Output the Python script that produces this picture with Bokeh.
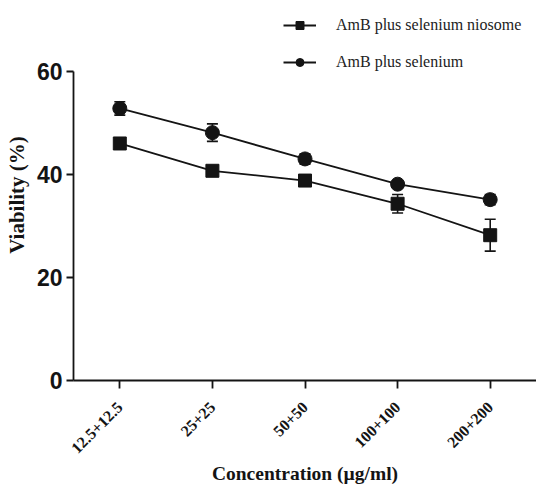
import math
from bokeh.plotting import figure
from bokeh.models import ColumnDataSource, Whisker, Legend, LegendItem, Range1d, FactorRange, FixedTicker
from bokeh.embed import file_html
from bokeh.resources import INLINE

categories = ["12.5+12.5", "25+25", "50+50", "100+100", "200+200"]
niosome_mean = [46.0, 40.7, 38.8, 34.3, 28.2]
niosome_err = [0.6, 0.6, 0.6, 1.8, 3.1]
selenium_mean = [52.8, 48.1, 43.0, 38.1, 35.1]
selenium_err = [1.3, 1.7, 1.0, 0.5, 1.0]
y_ticks = [0, 20, 40, 60]

INK = "#141414"
SERIF = "'Liberation Serif'"
SANS = "'Liberation Sans'"

p = figure(frame_width=463, frame_height=371, output_backend="svg", toolbar_location=None,
           x_range=FactorRange(factors=categories, range_padding=0),
           y_range=Range1d(0, 72),
           min_border_left=73, min_border_right=0, min_border_top=9, min_border_bottom=100)
p.outline_line_color = None
p.xgrid.visible = False
p.ygrid.visible = False
p.background_fill_color = "white"

src_n = ColumnDataSource(dict(x=categories, y=niosome_mean,
                              lo=[m - e for m, e in zip(niosome_mean, niosome_err)],
                              hi=[m + e for m, e in zip(niosome_mean, niosome_err)]))
src_s = ColumnDataSource(dict(x=categories, y=selenium_mean,
                              lo=[m - e for m, e in zip(selenium_mean, selenium_err)],
                              hi=[m + e for m, e in zip(selenium_mean, selenium_err)]))

for src in (src_n, src_s):
    w = Whisker(base="x", lower="lo", upper="hi", source=src, dimension="height",
                line_color=INK, line_width=1.6)
    w.upper_head.size = 11
    w.lower_head.size = 11
    w.upper_head.line_color = INK
    w.lower_head.line_color = INK
    w.upper_head.line_width = 1.6
    w.lower_head.line_width = 1.6
    p.add_layout(w)

ln_n = p.line("x", "y", source=src_n, line_color=INK, line_width=1.8)
mk_n = p.scatter("x", "y", source=src_n, marker="square", size=13, fill_color=INK, line_color=INK)
ln_s = p.line("x", "y", source=src_s, line_color=INK, line_width=1.8)
mk_s = p.scatter("x", "y", source=src_s, marker="circle", size=14, fill_color=INK, line_color=INK)

legend = Legend(items=[LegendItem(label="AmB plus selenium niosome", renderers=[ln_n, mk_n]),
                       LegendItem(label="AmB plus selenium", renderers=[ln_s, mk_s])],
                location=(210, 308), orientation="vertical",
                glyph_width=33, glyph_height=20, spacing=17, padding=5, margin=0,
                label_standoff=20, label_text_font=SERIF, label_text_font_size="16px",
                label_text_color="#222222", border_line_color=None, background_fill_alpha=0)
p.add_layout(legend, "center")

# y axis
p.yaxis.ticker = FixedTicker(ticks=y_ticks)
p.yaxis.bounds = (0, 60)
p.yaxis.axis_label = "Viability (%)"
p.yaxis.axis_label_text_font = SERIF
p.yaxis.axis_label_text_font_style = "bold"
p.yaxis.axis_label_text_font_size = "21px"
p.yaxis.axis_label_text_color = INK
p.yaxis.axis_label_standoff = 5
p.yaxis.major_label_text_font = SANS
p.yaxis.major_label_text_font_style = "bold"
p.yaxis.major_label_text_font_size = "23px"
p.yaxis.major_label_text_color = INK
p.yaxis.major_label_standoff = 4
p.yaxis.minor_tick_line_color = None
p.yaxis.major_tick_out = 7
p.yaxis.major_tick_in = 0
p.yaxis.axis_line_width = 1.8
p.yaxis.major_tick_line_width = 1.8
p.yaxis.axis_line_color = INK
p.yaxis.major_tick_line_color = INK

# x axis
p.xaxis.axis_label = "Concentration (µg/ml)"
p.xaxis.axis_label_text_font = SERIF
p.xaxis.axis_label_text_font_style = "bold"
p.xaxis.axis_label_text_font_size = "19.5px"
p.xaxis.axis_label_text_color = INK
p.xaxis.axis_label_standoff = 2
p.xaxis.major_label_orientation = math.pi / 4
p.xaxis.major_label_text_font = SERIF
p.xaxis.major_label_text_font_style = "bold"
p.xaxis.major_label_text_font_size = "16px"
p.xaxis.major_label_text_color = INK
p.xaxis.major_label_standoff = 16
p.xaxis.major_tick_out = 8
p.xaxis.major_tick_in = 0
p.xaxis.axis_line_width = 1.8
p.xaxis.major_tick_line_width = 1.8
p.xaxis.axis_line_color = INK
p.xaxis.major_tick_line_color = INK

open("out.html", "w").write(file_html(p, INLINE))
